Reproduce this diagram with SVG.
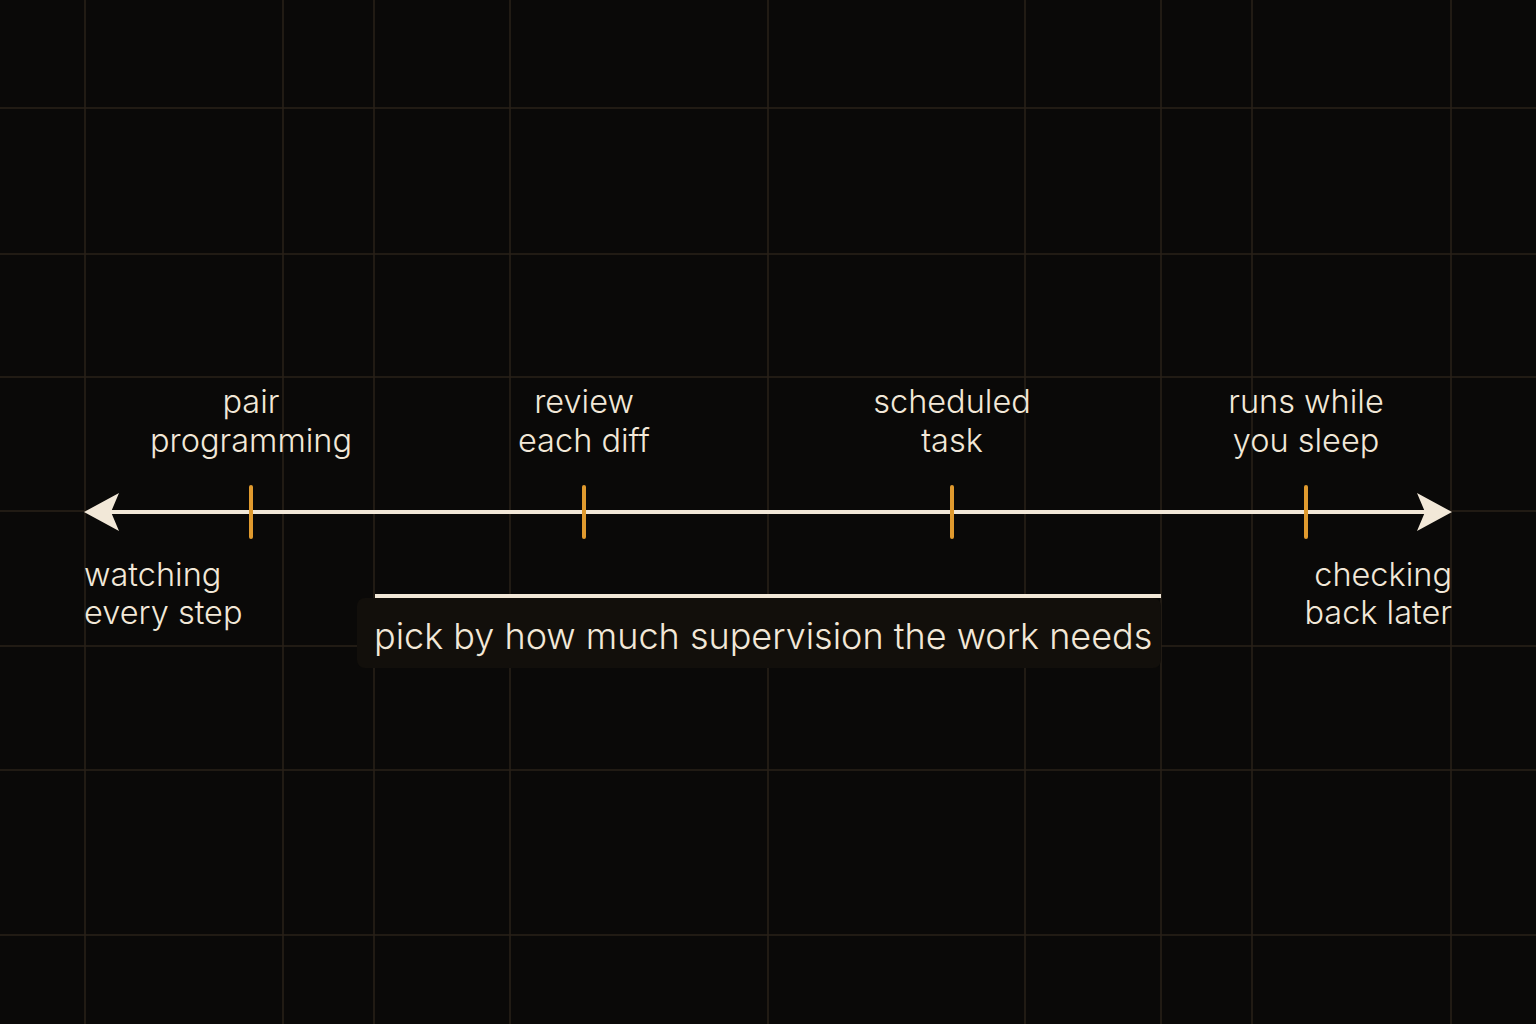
<svg xmlns="http://www.w3.org/2000/svg" width="1536" height="1024" viewBox="0 0 1536 1024">
  <defs>
    <style>
      .grid line { stroke: #2a2219; stroke-width: 1.5; }
      .lbl { font-family: Inter, "Noto Sans", "Liberation Sans", sans-serif; font-size: 32.5px; font-weight: 350; fill: #f2e8d8; }
      .cap { font-family: Inter, "Noto Sans", "Liberation Sans", sans-serif; font-size: 36px; font-weight: 350; fill: #f2e8d8; }
      .tick { stroke: #e09a2e; stroke-width: 4; stroke-linecap: round; }
      .axis { stroke: #f2e8d8; stroke-width: 4; }
    </style>
  </defs>
  <rect width="1536" height="1024" fill="#0a0908"/>
  <g class="grid" id="grid">
    <line x1="85" y1="0" x2="85" y2="1024"/>
    <line x1="283" y1="0" x2="283" y2="1024"/>
    <line x1="374" y1="0" x2="374" y2="1024"/>
    <line x1="510" y1="0" x2="510" y2="1024"/>
    <line x1="768" y1="0" x2="768" y2="1024"/>
    <line x1="1025" y1="0" x2="1025" y2="1024"/>
    <line x1="1161" y1="0" x2="1161" y2="1024"/>
    <line x1="1252" y1="0" x2="1252" y2="1024"/>
    <line x1="1451" y1="0" x2="1451" y2="1024"/>
    <line x1="0" y1="108" x2="1536" y2="108"/>
    <line x1="0" y1="254" x2="1536" y2="254"/>
    <line x1="0" y1="377" x2="1536" y2="377"/>
    <line x1="0" y1="511" x2="1536" y2="511"/>
    <line x1="0" y1="646" x2="1536" y2="646"/>
    <line x1="0" y1="770" x2="1536" y2="770"/>
    <line x1="0" y1="935" x2="1536" y2="935"/>
  </g>
  <g id="connectors">
    <line class="axis" x1="108" y1="512" x2="1428" y2="512"/>
    <path d="M84 512 L119 493 L111 512 L119 531 Z" fill="#f2e8d8"/>
    <path d="M1452 512 L1417 493 L1425 512 L1417 531 Z" fill="#f2e8d8"/>
  </g>
  <g id="tick-pair">
    <line class="tick" x1="251" y1="487" x2="251" y2="537"/>
    <text class="lbl" x="251" y="413" text-anchor="middle">pair</text>
    <text class="lbl" x="251" y="452" text-anchor="middle">programming</text>
  </g>
  <g id="tick-review">
    <line class="tick" x1="584" y1="487" x2="584" y2="537"/>
    <text class="lbl" x="584" y="413" text-anchor="middle">review</text>
    <text class="lbl" x="584" y="452" text-anchor="middle">each diff</text>
  </g>
  <g id="tick-scheduled">
    <line class="tick" x1="952" y1="487" x2="952" y2="537"/>
    <text class="lbl" x="952" y="413" text-anchor="middle">scheduled</text>
    <text class="lbl" x="952" y="452" text-anchor="middle">task</text>
  </g>
  <g id="tick-sleep">
    <line class="tick" x1="1306" y1="487" x2="1306" y2="537"/>
    <text class="lbl" x="1306" y="413" text-anchor="middle">runs while</text>
    <text class="lbl" x="1306" y="452" text-anchor="middle">you sleep</text>
  </g>
  <g id="end-left">
    <text class="lbl" x="84" y="586">watching</text>
    <text class="lbl" x="84" y="624">every step</text>
  </g>
  <g id="end-right">
    <text class="lbl" x="1452" y="586" text-anchor="end">checking</text>
    <text class="lbl" x="1452" y="624" text-anchor="end">back later</text>
  </g>
  <g id="caption">
    <rect x="357" y="598" width="804" height="70" rx="8" fill="#120f0b"/>
    <line x1="375" y1="596" x2="1161" y2="596" stroke="#f2e8d8" stroke-width="4"/>
    <text class="cap" x="374" y="649">pick by how much supervision the work needs</text>
  </g>
</svg>
